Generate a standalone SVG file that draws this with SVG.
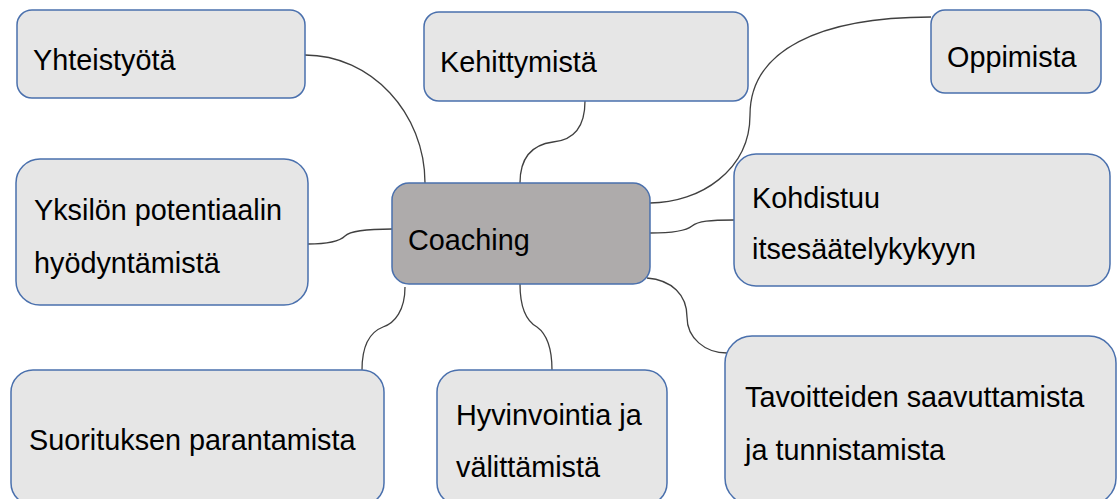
<svg xmlns="http://www.w3.org/2000/svg" width="1117" height="499" viewBox="0 0 1117 499">
<style>
.box{fill:#e6e6e6;stroke:#4a70ad;stroke-width:1.5}
.hub{fill:#aeabab;stroke:#4a70ad;stroke-width:1.5}
.t{font-family:"Liberation Sans",Arial,sans-serif;font-size:28.8px;fill:#000}
.c{fill:none;stroke:#404040;stroke-width:1.3}
</style>
<rect width="1117" height="499" fill="#ffffff"/>
<g id="connectors">
<path class="c" d="M305,55 C371,55 425,113 425,183"/>
<path class="c" d="M308,244 C330,244 340,241 345,236 C350,231 370,229 392,229"/>
<path class="c" d="M585,101 C585,125 575,140 553,142 C530,145 520,160 520,183"/>
<path class="c" d="M931,17 C820,17 750,50 750,115 C750,170 700,203 650,203"/>
<path class="c" d="M734,220 C710,220 698,221 692,226 C686,231 670,233 650,233"/>
<path class="c" d="M647,278 C672,280 687,295 687,317 C687,338 705,353 727,353"/>
<path class="c" d="M520,284 C520,310 528,322 537,327 C548,335 552,350 552,370"/>
<path class="c" d="M405,287 C405,310 395,323 383,327 C370,332 362,345 362,370"/>
</g>
<g id="node-coaching">
<rect class="hub" x="392" y="183" width="258" height="101" rx="17"/>
<text class="t" x="408" y="250">Coaching</text>
</g>
<g id="node-yhteistyota">
<rect class="box" x="17" y="10" width="288" height="88" rx="15"/>
<text class="t" x="33" y="70">Yhteistyötä</text>
</g>
<g id="node-kehittymista">
<rect class="box" x="424" y="12" width="324" height="89" rx="15"/>
<text class="t" x="440" y="72">Kehittymistä</text>
</g>
<g id="node-oppimista">
<rect class="box" x="931" y="10" width="170" height="83" rx="14"/>
<text class="t" x="947" y="67">Oppimista</text>
</g>
<g id="node-yksilon">
<rect class="box" x="16" y="159" width="292" height="146" rx="24"/>
<text class="t" x="34" y="220">Yksilön potentiaalin</text>
<text class="t" x="34" y="273">hyödyntämistä</text>
</g>
<g id="node-kohdistuu">
<rect class="box" x="734" y="154" width="376" height="132" rx="22"/>
<text class="t" x="752" y="208">Kohdistuu</text>
<text class="t" x="752" y="259">itsesäätelykykyyn</text>
</g>
<g id="node-suorituksen">
<rect class="box" x="11" y="370" width="373" height="135" rx="22"/>
<text class="t" x="29" y="450">Suorituksen parantamista</text>
</g>
<g id="node-hyvinvointia">
<rect class="box" x="437" y="370" width="230" height="135" rx="22"/>
<text class="t" x="456" y="425">Hyvinvointia ja</text>
<text class="t" x="456" y="477">välittämistä</text>
</g>
<g id="node-tavoitteiden">
<rect class="box" x="725" y="336" width="391" height="169" rx="27"/>
<text class="t" x="745" y="407">Tavoitteiden saavuttamista</text>
<text class="t" x="745" y="460">ja tunnistamista</text>
</g>
</svg>
